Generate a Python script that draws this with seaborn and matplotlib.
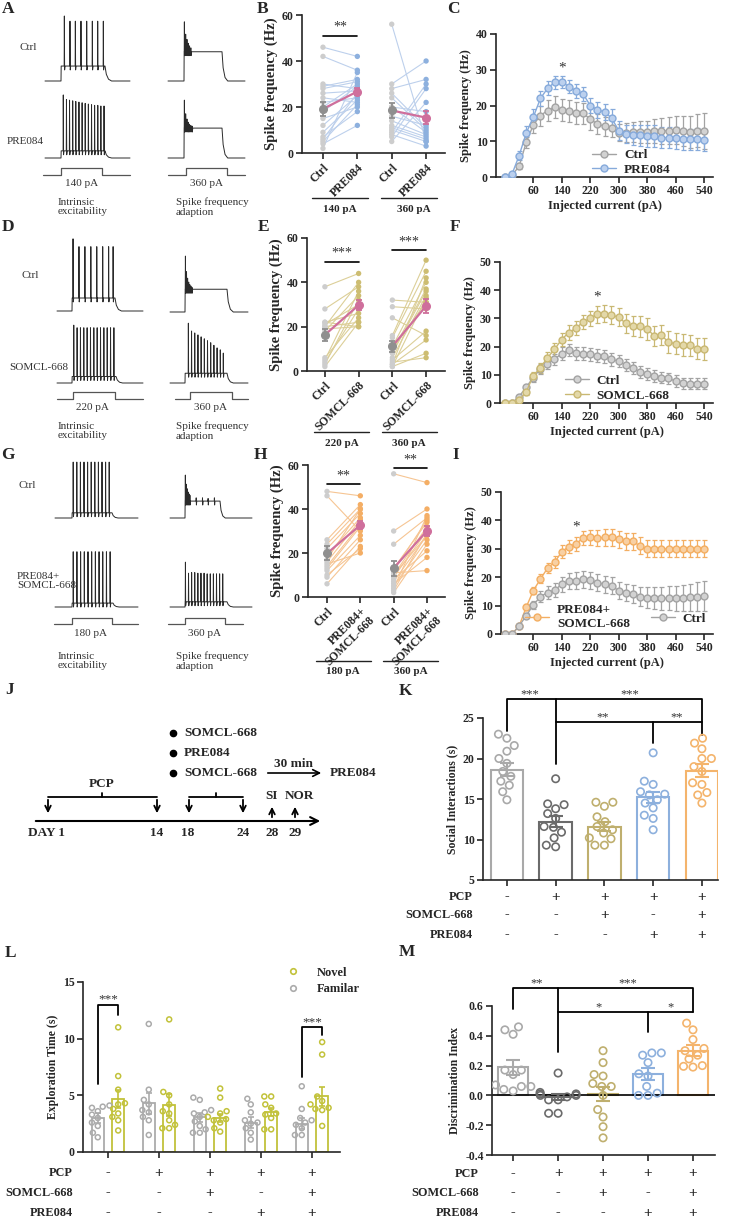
import numpy as np
import pandas as pd
import matplotlib
matplotlib.use('Agg')
import matplotlib.pyplot as plt
import matplotlib.transforms as mtrans
from matplotlib.lines import Line2D
import seaborn as sns

# ---------------- data ----------------
currents = [-20, 0, 20, 40, 60, 80, 100, 120, 140, 160, 180, 200, 220, 240, 260,
            280, 300, 320, 340, 360, 380, 400, 420, 440, 460, 480, 500, 520, 540]

# panel C (Ctrl vs PRE084)
C_ctrl = [0, 0.5, 3, 9.7, 14.6, 17.2, 18.6, 19.6, 18.7, 18.4, 17.9, 17.8, 16.2, 14.8, 14.2,
          13.6, 12.4, 12.4, 12.5, 12.6, 12.6, 12.8, 12.8, 13.0, 13.1, 12.9, 12.6, 12.9, 12.9]
C_ctrl_sem = [0, 0.3, 0.8, 1.5, 2.3, 2.8, 3.0, 3.0, 3.0, 3.0, 3.0, 3.0, 3.0, 2.8, 2.6,
              2.4, 2.4, 2.6, 2.8, 3.0, 3.2, 3.4, 3.6, 3.8, 4.0, 4.2, 4.4, 4.6, 5.0]
C_pre = [0, 0.8, 6, 12.3, 16.8, 22, 24.8, 26.5, 26.6, 25.3, 24.1, 23.2, 20, 18.8, 18.2,
         16.5, 13, 12, 11.8, 11.7, 11.5, 11.5, 11, 11, 10.9, 10.5, 10.5, 10.6, 10.4]
C_pre_sem = [0, 0.5, 1.2, 2.0, 2.3, 2.1, 2.0, 1.8, 1.6, 1.8, 1.9, 2.0, 2.1, 2.2, 2.3,
             2.5, 2.6, 2.6, 2.8, 2.9, 3.0, 3.0, 3.0, 3.0, 3.0, 3.0, 3.0, 3.0, 3.0]

# panel F (Ctrl vs SOMCL-668)
F_ctrl = [0, 0, 2.2, 5.5, 9, 12, 14, 15.5, 17.5, 18.8, 17.6, 17.4, 17.2, 16.7, 16.6,
          15.5, 14.8, 13.5, 12.5, 11, 10.2, 9.6, 9, 8.7, 7.8, 7, 6.9, 6.8, 6.8]
F_ctrl_sem = [0, 0.2, 0.5, 1, 1.5, 1.8, 2, 2, 2.2, 2.2, 2.3, 2.3, 2.3, 2.3, 2.3,
              2.3, 2.2, 2.2, 2.1, 2.1, 2.1, 2, 2, 2, 2, 2, 2, 2, 2]
F_som = [0, 0, 1, 3.8, 9.5, 12.5, 16, 19, 22.5, 25, 26.5, 28.7, 30, 31.5, 31.6,
         31.1, 30.5, 28.2, 27.2, 27.2, 26.3, 23.8, 24, 21.6, 21, 20.5, 20.4, 19.3, 19.1]
F_som_sem = [0, 0.2, 0.6, 1, 1.5, 1.8, 2.2, 2.3, 2.4, 2.5, 2.5, 2.6, 2.8, 3, 3,
             3.2, 3.3, 3.5, 3.5, 3.8, 3.8, 3.6, 3.6, 3.8, 3.8, 3.8, 3.8, 3.8, 3.8]

# panel I (Ctrl vs PRE084+SOMCL-668)
I_ctrl = [0, 0, 2.8, 6.5, 10.2, 13.2, 14.6, 15.5, 17.5, 18.7, 18.7, 19.3, 19, 18.1, 17.5,
          17, 15.2, 14.6, 14, 13.2, 12.8, 12.6, 12.6, 12.6, 12.6, 12.8, 12.9, 13.2, 13.4]
I_ctrl_sem = [0, 0, 0.5, 1, 1.5, 2, 2.2, 2.4, 2.6, 2.8, 3, 3, 3, 3, 3,
              3, 3, 3, 3.2, 3.4, 3.6, 3.8, 4, 4.2, 4.4, 4.6, 4.8, 5.2, 5.4]
I_combo = [0, 0, 2.8, 9.5, 15.3, 19.4, 23.2, 25.3, 29, 30.8, 31.8, 33.8, 34, 33.8, 34,
           34, 33.4, 32.6, 32.6, 31, 30, 30, 30, 30, 30, 30, 30, 30, 30]
I_combo_sem = [0, 0, 0.6, 1, 1.3, 1.6, 1.8, 2, 2.2, 2.4, 2.5, 2.6, 2.7, 2.8, 2.9,
               3, 3, 3, 3, 3, 3, 3, 3, 3, 3, 3, 3, 3, 3]

# paired panels B / E / H (each cell Ctrl -> drug)
B_ctrl_140 = [46, 42, 30, 29, 28, 26, 24, 22, 20, 18, 15, 12, 9, 7, 6, 5, 4, 2]
B_pre_140 = [42, 36, 28, 32, 31, 27, 22, 24, 30, 29, 20, 25, 23, 18, 26, 21, 12, 35]
B_ctrl_360 = [56, 30, 28, 26, 24, 20, 16, 14, 12, 11, 10, 9, 8, 7, 5, 20]
B_pre_360 = [5, 40, 32, 11, 10, 9, 12, 8, 7, 6, 5, 30, 3, 28, 22, 18]
E_ctrl_220 = [38, 28, 22, 21, 20, 20, 19, 18, 6, 5, 4, 3, 2, 22]
E_som_220 = [44, 38, 26, 30, 40, 22, 20, 34, 24, 36, 28, 32, 22, 20]
E_ctrl_360 = [32, 29, 24, 16, 15, 11, 9, 6, 5, 3, 2, 4, 8, 10, 3, 2]
E_som_360 = [31, 28, 16, 50, 45, 40, 37, 34, 18, 14, 8, 6, 36, 31, 42, 33]
H_ctrl_180 = [48, 46, 26, 24, 22, 19, 16, 14, 12, 9, 6, 15, 13, 17, 10]
H_combo_180 = [46, 30, 42, 40, 38, 36, 35, 33, 28, 26, 23, 20, 32, 40, 22]
H_ctrl_360 = [56, 30, 24, 13, 10, 9, 7, 5, 2, 8, 6, 11, 4, 3, 12, 10]
H_combo_360 = [52, 40, 36, 34, 32, 30, 28, 26, 24, 21, 18, 12, 37, 29, 35, 28]

# spike traces: spike times (ms into a 500 ms step), peaks (mV), plateau (mV)
A_ctrl_ie = ([38, 102, 163, 227, 292, 356, 417, 481], [100, 92, 92, 92, 92, 92, 92, 92], 23)
A_pre_ie = ([26, 62, 97, 133, 168, 204, 240, 275, 311, 347, 382, 418, 453, 489],
            [97, 90, 89, 88, 87, 86, 85, 84, 83, 82, 81, 81, 80, 80], 11)
A_ctrl_sfa = ([5, 22, 39, 56, 73, 90], [91, 72, 64, 58, 54, 51], 45)
A_pre_sfa = ([5, 22, 39, 56, 73, 90, 107], [89, 68, 60, 55, 52, 50, 49], 46)
D_ctrl_ie = ([12, 81, 150, 219, 288, 357, 426, 478], [111, 99, 99, 99, 99, 99, 99, 99], 20)
D_som_ie = ([20, 58, 96, 134, 172, 210, 248, 286, 324, 362, 400, 438, 476],
            [89, 85, 85, 85, 85, 85, 85, 85, 85, 85, 85, 85, 85], 10)
D_ctrl_sfa = ([5, 18, 31, 44, 57, 70, 83], [86, 62, 52, 46, 42, 40, 38], 35)
D_som_sfa = ([40, 78, 116, 154, 192, 230, 268, 306, 344, 382, 420, 456],
             [92, 80, 77, 74, 71, 68, 65, 62, 58, 54, 51, 46], 15)
G_ctrl_ie = ([15, 60, 105, 150, 195, 240, 285, 330, 375, 420, 465], [86] * 11, 8)
G_ctrl_sfa = ([5, 18, 31, 44, 57, 70, 160, 250, 330, 420],
              [66, 52, 45, 40, 37, 35, 31, 31, 30, 31], 26)
G_combo_ie = ([15, 60, 105, 150, 195, 240, 285, 330, 375, 420, 465], [85] * 11, 6)
G_combo_sfa = ([5, 42, 79, 116, 153, 190, 227, 264, 301, 338, 375, 412, 449],
               [69, 52, 53, 53, 52, 52, 52, 51, 51, 51, 51, 51, 51], 8)

# panel K social interaction
K_groups = ['Veh', 'PCP', 'PCP+SOM', 'PCP+PRE', 'PCP+SOM+PRE']
K_means = [18.6, 12.2, 11.6, 15.2, 18.5]
K_sems = [0.8, 0.7, 0.6, 0.7, 0.8]
K_pts = [[23.0, 22.5, 21.6, 20.9, 20.0, 19.4, 18.4, 17.8, 17.2, 16.7, 15.9, 14.9],
         [17.5, 14.4, 14.3, 13.8, 13.2, 12.6, 11.6, 11.5, 10.9, 10.2, 9.3, 9.1],
         [14.6, 14.6, 14.1, 12.8, 12.2, 11.6, 11.2, 10.8, 10.2, 10.1, 9.3, 9.3],
         [20.7, 17.2, 16.8, 15.9, 15.6, 15.5, 14.9, 14.5, 13.9, 13.0, 12.6, 11.2],
         [22.5, 21.9, 21.2, 20.0, 20.0, 19.0, 18.4, 17.0, 16.8, 15.8, 15.5, 14.5]]

# panel L novel object exploration
L_fam_means = [3.0, 4.3, 3.05, 2.6, 2.5]
L_fam_sems = [0.45, 0.95, 0.4, 0.45, 0.5]
L_nov_means = [4.7, 4.15, 3.0, 3.5, 4.9]
L_nov_sems = [0.8, 1.0, 0.35, 0.35, 0.8]
L_fam_pts = [[4.1, 4.0, 3.9, 3.6, 3.3, 3.0, 2.6, 2.3, 1.7, 1.3],
             [11.3, 5.5, 4.6, 4.2, 3.7, 3.5, 3.1, 2.8, 1.5],
             [4.8, 4.6, 3.7, 3.5, 3.4, 3.1, 2.7, 2.3, 2.0, 1.7, 1.7],
             [4.7, 4.2, 3.5, 2.8, 2.6, 2.5, 2.1, 1.7, 1.1],
             [5.8, 3.8, 3.0, 2.8, 2.4, 2.1, 1.5, 1.5, 2.6]]
L_nov_pts = [[11.0, 6.7, 5.5, 4.3, 4.2, 3.8, 3.4, 3.1, 2.8, 1.9],
             [11.7, 5.3, 5.0, 4.2, 3.6, 3.4, 2.8, 2.4, 2.1, 2.1],
             [5.6, 4.8, 3.6, 3.4, 3.1, 2.9, 2.8, 2.6, 2.1, 1.8],
             [4.9, 4.9, 4.2, 3.9, 3.4, 3.3, 3.0, 2.0, 2.0],
             [9.7, 8.6, 4.9, 4.5, 4.2, 3.8, 3.7, 2.3, 3.9]]

# panel M discrimination index
M_means = [0.19, -0.01, 0.01, 0.145, 0.30]
M_sems = [0.05, 0.02, 0.045, 0.04, 0.035]
M_pts = [[0.46, 0.44, 0.41, 0.17, 0.17, 0.14, 0.07, 0.06, 0.04, 0.03, 0.06],
         [0.15, 0.02, 0.01, 0.01, 0.0, -0.01, -0.03, -0.03, -0.12, -0.12, 0.0],
         [0.30, 0.22, 0.14, 0.13, 0.08, 0.06, 0.06, 0.0, -0.095, -0.145, -0.21, -0.285],
         [0.285, 0.285, 0.27, 0.22, 0.145, 0.13, 0.06, 0.015, 0.0, 0.0],
         [0.485, 0.44, 0.375, 0.315, 0.30, 0.27, 0.245, 0.20, 0.195, 0.19]]

row_pcp = ['-', '+', '+', '+', '+']
row_som = ['-', '-', '+', '-', '+']
row_pre = ['-', '-', '-', '+', '+']

# ---------------- style ----------------
sns.set_style('ticks')
plt.rcParams['font.family'] = ['Liberation Serif', 'DejaVu Serif']
plt.rcParams['font.weight'] = 'bold'
plt.rcParams['axes.labelweight'] = 'bold'

GRAY, GRAY_F = '#A3A3A3', '#D2D2D2'
BLUE, BLUE_F = '#86AADB', '#BBD0EE'
KHAKI, KHAKI_F = '#C9B873', '#E3D8A8'
ORANGE, ORANGE_F = '#F3AE62', '#F8D0A3'
PINK = '#CF6F9C'
GRP_COLORS = ['#A9A9A9', '#6B6B6B', '#BFAF6E', '#8DB0DD', '#F4B46C']
NOVEL, FAMIL = '#C2C23A', '#ABABAB'

W, H = 730, 1220
fig = plt.figure(figsize=(7.3, 12.2), dpi=100)


def rect(x0, y0, x1, y1):
    return [x0 / W, 1 - y1 / H, (x1 - x0) / W, (y1 - y0) / H]


ov = fig.add_axes([0, 0, 1, 1])
ov.set_xlim(0, W)
ov.set_ylim(H, 0)
ov.axis('off')


def style(ax, fs=8.5):
    sns.despine(ax=ax)
    ax.set_facecolor('none')
    for sp in ['left', 'bottom']:
        ax.spines[sp].set_linewidth(1.2)
    ax.tick_params(width=1.2, length=4, labelsize=fs, pad=2)


# ---------------- traces A / D / G ----------------
def draw_trace(tr, lay):
    spk, pk, plat = tr
    x_l, x_on, x_off, x_r, y_b = lay
    sx = (x_off - x_on) / 500.0
    sy = 0.65
    ts = [-(x_on - x_l) / sx, 0, 2]
    vs = [0, 0, plat]
    for t, p in zip(spk, pk):
        ts += [t - 2, t, t + 3, t + 8]
        vs += [plat, p, plat - 6, plat]
    ts += [500, 515, 540, 575, 500 + (x_r - x_off) / sx]
    vs += [plat, plat * 0.45, plat * 0.12, 0, 0]
    ov.plot(x_on + np.array(ts) * sx, y_b - np.array(vs) * sy, color='#2a2a2a', lw=0.7)


def draw_step(x_l, x_on, x_off, x_r, y_lo, y_hi):
    ov.plot([x_l, x_on, x_on, x_off, x_off, x_r], [y_lo, y_lo, y_hi, y_hi, y_lo, y_lo],
            color='#555555', lw=0.9)


draw_trace(A_ctrl_ie, (45, 61, 105, 130, 81))
draw_trace(A_pre_ie, (45, 61, 105, 130, 158))
draw_trace(A_ctrl_sfa, (168, 184, 222, 245, 81))
draw_trace(A_pre_sfa, (168, 184, 222, 245, 158))
draw_step(43, 61, 102, 130, 175, 168)
draw_step(168, 186, 227, 245, 175, 168)

draw_trace(D_ctrl_ie, (57, 72, 115, 143, 311))
draw_trace(D_som_ie, (57, 72, 116, 143, 383))
draw_trace(D_ctrl_sfa, (170, 185, 227, 248, 312))
draw_trace(D_som_sfa, (170, 185, 227, 248, 383))
draw_step(57, 73, 115, 143, 399, 392)
draw_step(175, 190, 232, 248, 399, 392)

draw_trace(G_ctrl_ie, (55, 72, 112, 138, 518))
draw_trace(G_combo_ie, (55, 72, 113, 138, 607))
draw_trace(G_ctrl_sfa, (170, 185, 220, 252, 518))
draw_trace(G_combo_sfa, (170, 185, 227, 252, 607))
draw_step(54, 72, 112, 138, 624, 618)
draw_step(168, 185, 225, 243, 624, 618)

tkw = dict(fontsize=8, fontweight='normal', color='#333333')
for x, y, s in [(28, 47, 'Ctrl'), (25, 142, 'PRE084'), (82, 184, '140 pA'), (207, 184, '360 pA'),
                (30, 275, 'Ctrl'), (39, 367, 'SOMCL-668'), (92, 408, '220 pA'), (211, 408, '360 pA'),
                (27, 486, 'Ctrl'), (90, 634, '180 pA'), (205, 633, '360 pA')]:
    ov.text(x, y, s, ha='center', va='center', **tkw)
ov.text(17, 581, 'PRE084+\nSOMCL-668', ha='left', va='center', linespacing=1.1, **tkw)
for y in [207, 431, 661]:
    ov.text(58, y, 'Intrinsic\nexcitability', ha='left', va='center', linespacing=1.1, **tkw)
    ov.text(176, y, 'Spike frequency\nadaption', ha='left', va='center', linespacing=1.1, **tkw)


# ---------------- paired panels B / E / H ----------------
def sem(v):
    v = np.asarray(v, float)
    return v.std(ddof=1) / np.sqrt(len(v))


def pair_panel(r, xlim, pairs, pt_col, line_col, ticklabels, und_y, sigs):
    ax = fig.add_axes(rect(*r))
    rows = []
    for g, (c, t) in enumerate(pairs):
        for i, (a, b) in enumerate(zip(c, t)):
            rows.append(dict(cell=f'{g}_{i}', x=2 * g, val=a, cond='ctrl'))
            rows.append(dict(cell=f'{g}_{i}', x=2 * g + 1, val=b, cond='trt'))
    df = pd.DataFrame(rows)
    sns.lineplot(data=df, x='x', y='val', units='cell', estimator=None, color=line_col,
                 lw=0.8, ax=ax, legend=False)
    sns.scatterplot(data=df, x='x', y='val', hue='cond', palette={'ctrl': '#CDCDCD', 'trt': pt_col},
                    s=15, linewidth=0, ax=ax, legend=False, zorder=3)
    for g, (c, t) in enumerate(pairs):
        m = [np.mean(c), np.mean(t)]
        ax.plot([2 * g, 2 * g + 1], m, color=PINK, lw=1.6, zorder=4)
        ax.errorbar(2 * g, m[0], yerr=sem(c), color='#8F8F8F', marker='o', ms=5.5,
                    capsize=2.5, elinewidth=1.3, capthick=1.3, zorder=5)
        ax.errorbar(2 * g + 1, m[1], yerr=sem(t), color=PINK, marker='o', ms=5.5,
                    capsize=2.5, elinewidth=1.3, capthick=1.3, zorder=5)
    ax.set_xlim(*xlim)
    ax.set_ylim(0, 60)
    ax.set_yticks([0, 20, 40, 60])
    ax.set_xticks([0, 1, 2, 3])
    ax.set_xticklabels(ticklabels, rotation=45, ha='right', rotation_mode='anchor',
                       linespacing=1.0)
    ax.set_xlabel('')
    ax.set_ylabel('Spike frequency (Hz)', fontsize=10.5, labelpad=3)
    style(ax)
    tr = mtrans.blended_transform_factory(ax.transData, ov.transData)
    for g in range(2):
        ax.plot([2 * g - 0.32, 2 * g + 1.32], [und_y, und_y], color='#222222', lw=1.0,
                transform=tr, clip_on=False)
    for g, yv, s in sigs:
        ax.plot([2 * g, 2 * g + 1], [yv, yv], color='k', lw=1.2, clip_on=False)
        ax.text(2 * g + 0.5, yv + 0.8, s, ha='center', va='bottom', fontsize=10,
                fontweight='normal', color='#333333')
    return ax


pair_panel((302, 15, 445, 153), (-0.61, 3.55), [(B_ctrl_140, B_pre_140), (B_ctrl_360, B_pre_360)],
           '#8DB0DE', '#BDD0EC', ['Ctrl', 'PRE084'] * 2, 198, [(0, 51, '**')])
pair_panel((307, 238, 445, 371), (-0.53, 3.56), [(E_ctrl_220, E_som_220), (E_ctrl_360, E_som_360)],
           '#CDBD72', '#DCCF98', ['Ctrl', 'SOMCL-668'] * 2, 432,
           [(0, 49.3, '***'), (1, 54.6, '***')])
pair_panel((308, 465, 445, 597), (-0.57, 3.54), [(H_ctrl_180, H_combo_180), (H_ctrl_360, H_combo_360)],
           '#F4AE65', '#F6C593', ['Ctrl', 'PRE084+\nSOMCL-668'] * 2, 661,
           [(0, 51.4, '**'), (1, 58.6, '**')])
for x, y, s in [(340, 209, '140 pA'), (414, 209, '360 pA'), (342, 443, '220 pA'),
                (409, 443, '360 pA'), (343, 671, '180 pA'), (411, 671, '360 pA')]:
    ov.text(x, y, s, ha='center', va='center', fontsize=8)


# ---------------- current-frequency curves C / F / I ----------------
def curve_panel(r, xl, ylim, yticks, curves, star, leg_anchor, ncol=1, colsp=2.2):
    ax = fig.add_axes(rect(*r))
    handles = []
    for mean, err, col, face, lab in curves:
        ax.errorbar(currents, mean, yerr=err, fmt='none', ecolor=col, elinewidth=0.9,
                    capsize=1.8, capthick=0.9, zorder=2)
        sns.lineplot(x=currents, y=mean, color=col, lw=1.0, marker='o', markersize=5,
                     markerfacecolor=face, markeredgecolor=col, markeredgewidth=1.0, ax=ax, zorder=3)
        handles.append(Line2D([], [], color=col, lw=1.0, marker='o', ms=5, mfc=face, mec=col))
    ax.set_xlim(*xl)
    ax.set_ylim(*ylim)
    ax.set_yticks(yticks)
    ax.set_xticks([60, 140, 220, 300, 380, 460, 540])
    ax.set_xlabel('Injected current (pA)', fontsize=9, labelpad=2)
    ax.set_ylabel('Spike frequency (Hz)', fontsize=9, labelpad=3)
    style(ax)
    ax.text(star[0], star[1], '*', ha='center', va='center', fontsize=11,
            fontweight='normal', color='#333333')
    ax.legend(handles, [c[4] for c in curves], loc='lower left', bbox_to_anchor=leg_anchor,
              frameon=False, fontsize=9.5, handlelength=1.8, handletextpad=0.6,
              labelspacing=0.2, ncol=ncol, columnspacing=colsp, borderaxespad=0)
    return ax


curve_panel((496, 34, 713, 177), (-45, 565), (0, 40), [0, 10, 20, 30, 40],
            [(C_ctrl, C_ctrl_sem, GRAY, GRAY_F, 'Ctrl'), (C_pre, C_pre_sem, BLUE, BLUE_F, 'PRE084')],
            (140, 30.5), (0.42, -0.03))
curve_panel((500, 262, 713, 403), (-33, 565), (0, 50), [0, 10, 20, 30, 40, 50],
            [(F_ctrl, F_ctrl_sem, GRAY, GRAY_F, 'Ctrl'), (F_som, F_som_sem, KHAKI, KHAKI_F, 'SOMCL-668')],
            (240, 37.5), (0.28, -0.03))
curve_panel((501, 492, 713, 634), (-31, 565), (0, 50), [0, 10, 20, 30, 40, 50],
            [(I_combo, I_combo_sem, ORANGE, ORANGE_F, 'PRE084+\nSOMCL-668'),
             (I_ctrl, I_ctrl_sem, GRAY, GRAY_F, 'Ctrl')],
            (180, 37.5), (0.09, -0.01), ncol=2, colsp=1.6)


# ---------------- timeline J ----------------
lk = dict(fontsize=9.5, fontweight='bold')
ov.annotate('', xy=(323, 821), xytext=(33, 821),
            arrowprops=dict(arrowstyle='->', lw=1.5, color='k', mutation_scale=14))
for x in [48, 157, 189, 243]:
    ov.annotate('', xy=(x, 816), xytext=(x, 797),
                arrowprops=dict(arrowstyle='->', lw=1.3, color='k', mutation_scale=10))
for x in [272, 295]:
    ov.annotate('', xy=(x, 804), xytext=(x, 820),
                arrowprops=dict(arrowstyle='->', lw=1.3, color='k', mutation_scale=10))
ov.plot([48, 157], [797, 797], color='k', lw=1.3)
ov.plot([102, 102], [797, 793], color='k', lw=1.3)
ov.plot([189, 243], [797, 797], color='k', lw=1.3)
ov.plot([216, 216], [797, 793], color='k', lw=1.3)
ov.text(102, 784, 'PCP', ha='center', va='center', **lk)
ov.text(272, 796, 'SI', ha='center', va='center', **lk)
ov.text(299, 796, 'NOR', ha='center', va='center', **lk)
for x, s in [(46, 'DAY 1'), (157, '14'), (188, '18'), (243, '24'), (272, '28'), (295, '29')]:
    ov.text(x, 833, s, ha='center', va='center', **lk)
for y, s in [(733, 'SOMCL-668'), (753, 'PRE084'), (773, 'SOMCL-668')]:
    ov.plot(173, y, 'o', color='k', ms=4.5)
    ov.text(184, y, s, ha='left', va='center', **lk)
ov.annotate('', xy=(324, 773), xytext=(265, 773),
            arrowprops=dict(arrowstyle='->', lw=1.2, color='k', mutation_scale=12))
ov.text(293, 764, '30 min', ha='center', va='center', **lk)
ov.text(330, 773, 'PRE084', ha='left', va='center', **lk)


# ---------------- helpers for bar panels ----------------
def hollow(ax, n_before, lw=1.2):
    for coll in ax.collections[n_before:]:
        fc = coll.get_facecolors()
        coll.set_edgecolors(fc)
        coll.set_facecolors('none')
        coll.set_linewidths(lw)


def table(ax, ys, label_x):
    tr = mtrans.blended_transform_factory(ax.transData, ov.transData)
    for y, lab, row in zip(ys, ['PCP', 'SOMCL-668', 'PRE084'], [row_pcp, row_som, row_pre]):
        ov.text(label_x, y, lab, ha='right', va='center', fontsize=8.8)
        for i, v in enumerate(row):
            ax.text(i, y, v, transform=tr, ha='center', va='center',
                    fontsize=11 if v == '+' else 10)


def sig(ax, x, y, s, fs=9):
    ax.text(x, y, s, ha='center', va='bottom', fontsize=fs, fontweight='normal', color='#333333')


def brk(ax, xs, ys):
    ax.plot(xs, ys, color='k', lw=1.3, clip_on=False)


pal5 = dict(zip(K_groups, GRP_COLORS))

# ---------------- K ----------------
axK = fig.add_axes(rect(483, 718, 718, 880))
sns.barplot(x=K_groups, y=K_means, hue=K_groups, palette=pal5, fill=False, width=0.67,
            linewidth=1.5, errorbar=None, legend=False, ax=axK)
dfK = pd.DataFrame([(g, v) for g, vals in zip(K_groups, K_pts) for v in vals], columns=['grp', 'val'])
n0 = len(axK.collections)
sns.swarmplot(data=dfK, x='grp', y='val', hue='grp', order=K_groups, palette=pal5, size=5.3,
              legend=False, ax=axK)
hollow(axK, n0)
for i, (m, s) in enumerate(zip(K_means, K_sems)):
    axK.errorbar(i, m, yerr=s, color=GRP_COLORS[i], capsize=5, elinewidth=1.5, capthick=1.5, zorder=5)
axK.set_xlim(-0.49, 4.33)
axK.set_ylim(5, 25)
axK.set_yticks([5, 10, 15, 20, 25])
axK.set_xticks(range(5))
axK.set_xticklabels([])
axK.set_xlabel('')
axK.set_ylabel('Social Interactions (s)', fontsize=8.5, labelpad=3)
style(axK)
brk(axK, [0, 0, 1, 1], [23.35, 27.3, 27.3, 19.35])
brk(axK, [1, 4, 4], [27.3, 27.3, 22.9])
brk(axK, [1, 4], [24.5, 24.5])
brk(axK, [3, 3], [24.5, 21.9])
sig(axK, 0.47, 27.2, '***')
sig(axK, 2.52, 27.2, '***')
sig(axK, 1.97, 24.4, '**')
sig(axK, 3.49, 24.4, '**')
table(axK, [897, 915, 935], 473)

# ---------------- L ----------------
axL = fig.add_axes(rect(83, 982, 340, 1152))
dfLm = pd.DataFrame({'grp': K_groups * 2, 'obj': ['Familar'] * 5 + ['Novel'] * 5,
                     'val': L_fam_means + L_nov_means})
palL = {'Familar': FAMIL, 'Novel': NOVEL}
sns.barplot(data=dfLm, x='grp', y='val', hue='obj', hue_order=['Familar', 'Novel'], order=K_groups,
            palette=palL, fill=False, width=0.8, gap=0.41, linewidth=1.3, errorbar=None,
            legend=False, ax=axL)
rowsL = [(g, 'Familar', v) for g, vals in zip(K_groups, L_fam_pts) for v in vals] + \
        [(g, 'Novel', v) for g, vals in zip(K_groups, L_nov_pts) for v in vals]
dfL = pd.DataFrame(rowsL, columns=['grp', 'obj', 'val'])
n0 = len(axL.collections)
sns.swarmplot(data=dfL, x='grp', y='val', hue='obj', hue_order=['Familar', 'Novel'], order=K_groups,
              dodge=True, palette=palL, size=3.6, legend=False, ax=axL)
hollow(axL, n0, lw=1.1)
for i in range(5):
    axL.errorbar(i - 0.2, L_fam_means[i], yerr=L_fam_sems[i], color=FAMIL, capsize=2.5,
                 elinewidth=1.2, capthick=1.2, zorder=5)
    axL.errorbar(i + 0.2, L_nov_means[i], yerr=L_nov_sems[i], color=NOVEL, capsize=2.5,
                 elinewidth=1.2, capthick=1.2, zorder=5)
axL.set_xlim(-0.49, 4.55)
axL.set_ylim(0, 15)
axL.set_yticks([0, 5, 10, 15])
axL.set_xticks(range(5))
axL.set_xticklabels([])
axL.set_xlabel('')
axL.set_ylabel('Exploration Time (s)', fontsize=8.5, labelpad=3)
style(axL)
brk(axL, [-0.2, -0.2, 0.2, 0.2], [6.0, 13.0, 13.0, 12.1])
brk(axL, [3.8, 3.8, 4.2, 4.2], [6.6, 11.05, 11.05, 10.3])
sig(axL, 0.0, 12.9, '***', fs=9.5)
sig(axL, 4.0, 10.95, '***', fs=9.5)
hL = [Line2D([], [], ls='', marker='o', ms=4, mfc='none', mec=c, mew=1.2) for c in [NOVEL, FAMIL]]
axL.legend(hL, ['Novel', 'Familar'], loc='upper left', bbox_to_anchor=(0.75, 1.12), frameon=False,
           fontsize=9, handletextpad=0.9, labelspacing=0.35, borderaxespad=0)
table(axL, [1173, 1193, 1213], 73)

# ---------------- M ----------------
axM = fig.add_axes(rect(492, 1006, 715, 1155))
sns.barplot(x=K_groups, y=M_means, hue=K_groups, palette=pal5, fill=False, width=0.67,
            linewidth=1.5, errorbar=None, legend=False, ax=axM)
dfM = pd.DataFrame([(g, v) for g, vals in zip(K_groups, M_pts) for v in vals], columns=['grp', 'val'])
n0 = len(axM.collections)
sns.swarmplot(data=dfM, x='grp', y='val', hue='grp', order=K_groups, palette=pal5, size=5.3,
              legend=False, ax=axM)
hollow(axM, n0)
for i, (m, s) in enumerate(zip(M_means, M_sems)):
    axM.errorbar(i, m, yerr=s, color=GRP_COLORS[i], capsize=5, elinewidth=1.5, capthick=1.5, zorder=5)
axM.axhline(0, color='k', lw=1.2, zorder=1)
axM.set_xlim(-0.47, 4.49)
axM.set_ylim(-0.4, 0.6)
axM.set_yticks([-0.4, -0.2, 0.0, 0.2, 0.4, 0.6])
axM.set_yticklabels(['-0.4', '-0.2', '0.0', '0.2', '0.4', '0.6'])
axM.set_xticks(range(5))
axM.set_xticklabels([])
axM.set_xlabel('')
axM.set_ylabel('Discrimination Index', fontsize=8.5, labelpad=3)
style(axM)
brk(axM, [0, 0, 1, 1], [0.577, 0.719, 0.719, 0.292])
brk(axM, [1, 4, 4], [0.719, 0.719, 0.562])
brk(axM, [1, 4], [0.562, 0.562])
brk(axM, [3, 3], [0.562, 0.427])
sig(axM, 0.53, 0.71, '**')
sig(axM, 2.56, 0.71, '***')
sig(axM, 1.9, 0.55, '*')
sig(axM, 3.49, 0.55, '*')
table(axM, [1174, 1193, 1213], 479)

# ---------------- panel letters ----------------
for s, x, y in [('A', 8, 9), ('B', 263, 9), ('C', 453, 9), ('D', 8, 227), ('E', 264, 227),
                ('F', 455, 227), ('G', 8, 455), ('H', 260, 455), ('I', 456, 455),
                ('J', 10, 690), ('K', 405, 691), ('L', 10, 953), ('M', 407, 952)]:
    ov.text(x, y, s, fontsize=12.5, fontweight='bold', ha='center', va='center')

fig.savefig('out.png', dpi=100)
